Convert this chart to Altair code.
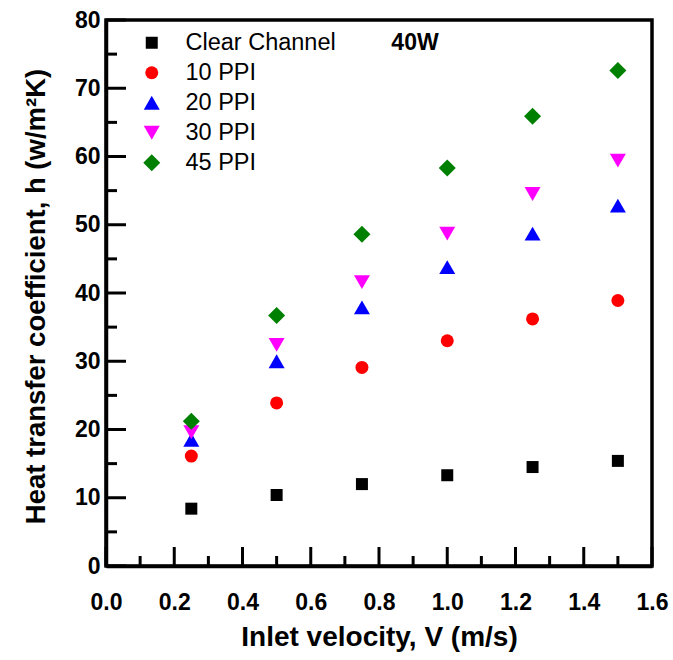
import altair as alt
import pandas as pd

# ---- data ----
velocity = [0.25, 0.5, 0.75, 1.0, 1.25, 1.5]
clear_channel = [8.4, 10.4, 12.0, 13.3, 14.5, 15.4]
ppi_10 = [16.1, 23.9, 29.1, 33.0, 36.2, 38.9]
ppi_20 = [18.5, 30.0, 37.9, 43.8, 48.7, 52.8]
ppi_30 = [19.6, 32.4, 41.6, 48.7, 54.5, 59.4]
ppi_45 = [21.2, 36.7, 48.6, 58.3, 65.9, 72.6]

series_names = ["Clear Channel", "10 PPI", "20 PPI", "30 PPI", "45 PPI"]
series_values = [clear_channel, ppi_10, ppi_20, ppi_30, ppi_45]

x_major = [0.0, 0.2, 0.4, 0.6, 0.8, 1.0, 1.2, 1.4, 1.6]
x_minor = [0.1, 0.3, 0.5, 0.7, 0.9, 1.1, 1.3, 1.5]
y_major = [0, 10, 20, 30, 40, 50, 60, 70, 80]
y_minor = [5, 15, 25, 35, 45, 55, 65, 75]

annotation = "40W"

rows = []
for i, (name, vals) in enumerate(zip(series_names, series_values)):
    for v, h in zip(velocity, vals):
        rows.append({"V": v, "h": h, "series": name, "k": i})
df = pd.DataFrame(rows)

FONT = "Liberation Sans"
W, H = 546, 546

xscale = alt.Scale(domain=[0, 1.6], nice=False, zero=False)
yscale = alt.Scale(domain=[0, 80], nice=False, zero=False)

xaxis = alt.Axis(values=x_major, format=".1f", ticks=False, grid=False,
                 domainColor="black", domainWidth=3.5,
                 labelFont=FONT, labelFontWeight="bold", labelFontSize=23,
                 labelColor="black", labelPadding=25, labelFlush=False,
                 title="Inlet velocity, V (m/s)", titleFont=FONT,
                 titleFontWeight="bold", titleFontSize=28, titleColor="black",
                 titleX=273, titleY=71, titleBaseline="middle")
yaxis = alt.Axis(values=y_major, format="d", ticks=False, grid=False,
                 domainColor="black", domainWidth=3.5,
                 labelFont=FONT, labelFontWeight="bold", labelFontSize=23,
                 labelColor="black", labelPadding=6, labelFlush=False,
                 title="Heat transfer coefficient, h (w/m\u00b2K)", titleFont=FONT,
                 titleFontWeight="bold", titleFontSize=27.5, titleColor="black",
                 titleX=-70, titleY=276, titleAngle=-90,
                 titleBaseline="middle", titleAlign="center")

colors = ["#000000", "#FF0000", "#0000FF", "#FF00FF", "#008000"]
shapes = ["square", "circle", "triangle-up", "triangle-down", "diamond"]
sizes = [144, 169, 256, 256, 289]

legend = alt.Legend(title=None, orient="none", legendX=34, legendY=11,
                    labelFont=FONT, labelFontSize=23.5, labelColor="black",
                    symbolSize=170, symbolStrokeWidth=0,
                    labelOffset=22, rowPadding=5, padding=0)

points = alt.Chart(df).mark_point(filled=True, opacity=1, strokeWidth=0).encode(
    x=alt.X("V:Q", scale=xscale, axis=xaxis),
    y=alt.Y("h:Q", scale=yscale, axis=yaxis),
    color=alt.Color("series:N", scale=alt.Scale(domain=series_names, range=colors),
                    legend=legend),
    shape=alt.Shape("series:N", scale=alt.Scale(domain=series_names, range=shapes),
                    legend=legend),
    size=alt.Size("series:N",
                  scale=alt.Scale(type="ordinal", domain=series_names, range=sizes),
                  legend=None),
    order=alt.Order("k:Q"),
)

xmaj = alt.Chart(pd.DataFrame({"v": x_major})).mark_rule(color="black", strokeWidth=3).encode(
    x=alt.X("v:Q", scale=xscale, axis=xaxis), y=alt.value(H), y2=alt.value(H - 19))
xmin = alt.Chart(pd.DataFrame({"v": x_minor})).mark_rule(color="black", strokeWidth=3).encode(
    x=alt.X("v:Q", scale=xscale, axis=xaxis), y=alt.value(H), y2=alt.value(H - 10))
ymaj = alt.Chart(pd.DataFrame({"v": y_major})).mark_rule(color="black", strokeWidth=3).encode(
    y=alt.Y("v:Q", scale=yscale, axis=yaxis), x=alt.value(0), x2=alt.value(20))
ymin = alt.Chart(pd.DataFrame({"v": y_minor})).mark_rule(color="black", strokeWidth=3).encode(
    y=alt.Y("v:Q", scale=yscale, axis=yaxis), x=alt.value(0), x2=alt.value(11))

label = alt.Chart(pd.DataFrame({"t": [annotation]})).mark_text(
    font=FONT, fontWeight="bold", fontSize=23, color="black",
    align="center", baseline="middle").encode(
    text="t:N", x=alt.value(309), y=alt.value(23))

chart = alt.layer(points, xmaj, xmin, ymaj, ymin, label).properties(
    width=W, height=H,
    autosize=alt.AutoSizeParams(type="none"),
    padding={"left": 106, "top": 20, "right": 21, "bottom": 94},
    background="white",
).configure_view(stroke="black", strokeWidth=3.5)

chart.save("out.html", embed_options={"renderer": "svg", "actions": False})
